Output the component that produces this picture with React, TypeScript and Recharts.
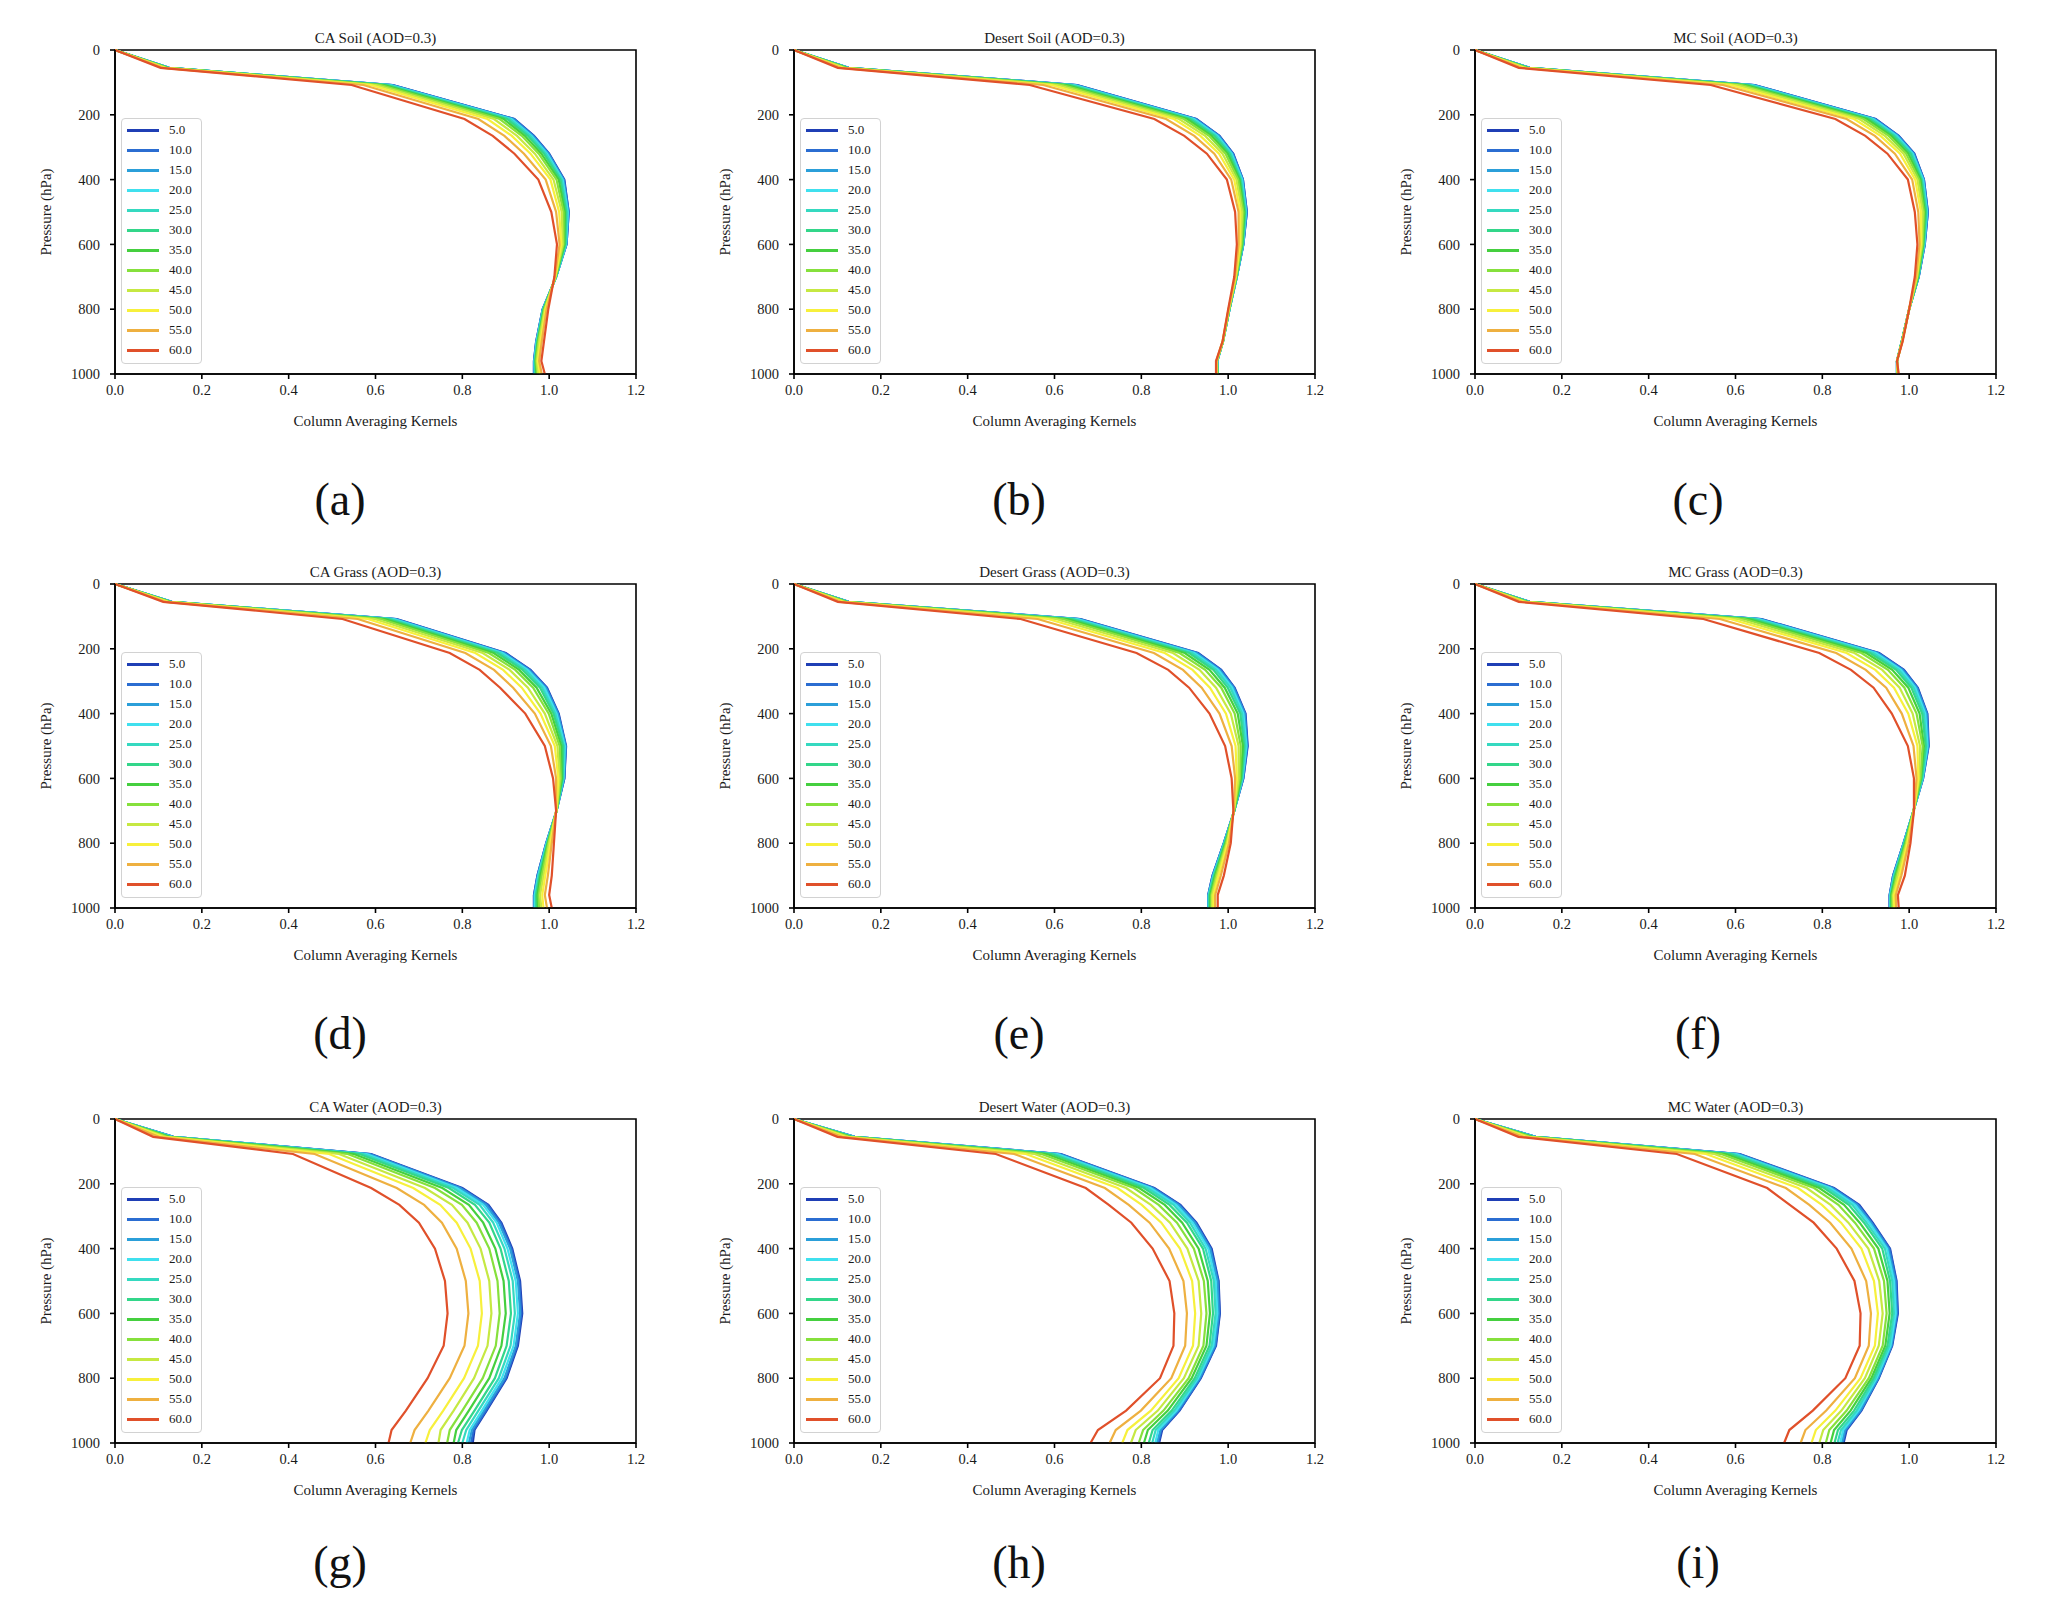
import React from "react";
import { Label, Legend, Line, LineChart, ReferenceArea, XAxis, YAxis } from "recharts";

// pressure levels (hPa), one row per level in every panel table below
const pressure = [0, 55, 108, 213, 265, 320, 400, 500, 600, 700, 800, 900, 960, 1000];
const angles = ["5.0", "10.0", "15.0", "20.0", "25.0", "30.0", "35.0", "40.0", "45.0", "50.0", "55.0", "60.0"];
const colors = ["#1f3fb5", "#2b6dd1", "#2b9fd9", "#40e0ee", "#35d9c0", "#33d68a", "#45cf3f", "#86e03c", "#c6e842", "#f7f03c", "#eeb040", "#e0502a"];
const xTicks = [0, 0.2, 0.4, 0.6, 0.8, 1.0, 1.2];
const yTicks = [0, 200, 400, 600, 800, 1000];

// columns: angles 5.0 ... 60.0
const caSoil = [
  [0, 0, 0, 0, 0, 0, 0, 0, 0, 0, 0, 0],
  [.125, .125, .124, .124, .123, .122, .121, .119, .117, .114, .111, .105],
  [.64, .639, .637, .634, .631, .626, .619, .612, .601, .589, .572, .545],
  [.92, .919, .917, .913, .909, .903, .895, .886, .873, .858, .837, .805],
  [.965, .964, .962, .959, .956, .951, .944, .937, .926, .914, .897, .87],
  [1.0, .999, .998, .995, .992, .988, .982, .976, .967, .957, .942, .92],
  [1.035, 1.034, 1.033, 1.031, 1.029, 1.026, 1.022, 1.017, 1.01, 1.003, .992, .975],
  [1.045, 1.045, 1.044, 1.043, 1.041, 1.039, 1.036, 1.033, 1.029, 1.023, 1.016, 1.005],
  [1.04, 1.04, 1.039, 1.039, 1.038, 1.037, 1.035, 1.033, 1.031, 1.028, 1.024, 1.018],
  [1.016, 1.016, 1.016, 1.016, 1.016, 1.015, 1.015, 1.015, 1.014, 1.014, 1.013, 1.012],
  [.985, .985, .985, .986, .986, .987, .988, .989, .99, .992, .994, .998],
  [.97, .97, .971, .971, .972, .973, .974, .975, .977, .98, .983, .988],
  [.965, .965, .966, .966, .967, .968, .969, .97, .972, .974, .977, .982],
  [.965, .965, .966, .967, .968, .969, .971, .973, .975, .979, .983, .99],
];

const desertSoil = [
  [0, 0, 0, 0, 0, 0, 0, 0, 0, 0, 0, 0],
  [.126, .126, .125, .124, .124, .122, .121, .119, .116, .112, .108, .101],
  [.652, .651, .649, .645, .641, .636, .628, .619, .607, .593, .574, .543],
  [.927, .926, .924, .921, .917, .912, .906, .898, .887, .875, .857, .83],
  [.98, .979, .978, .975, .972, .968, .962, .956, .947, .936, .922, .899],
  [1.012, 1.011, 1.01, 1.008, 1.006, 1.003, .999, .994, .987, .979, .968, .951],
  [1.034, 1.034, 1.033, 1.032, 1.03, 1.028, 1.026, 1.023, 1.019, 1.014, 1.007, .997],
  [1.043, 1.043, 1.042, 1.041, 1.04, 1.039, 1.037, 1.035, 1.032, 1.028, 1.024, 1.016],
  [1.035, 1.035, 1.035, 1.034, 1.034, 1.033, 1.032, 1.031, 1.029, 1.027, 1.024, 1.02],
  [1.02, 1.02, 1.02, 1.02, 1.019, 1.019, 1.019, 1.018, 1.018, 1.017, 1.016, 1.014],
  [1.003, 1.003, 1.003, 1.003, 1.003, 1.003, 1.002, 1.002, 1.002, 1.001, 1.001, 1.0],
  [.988, .988, .988, .988, .988, .988, .988, .988, .988, .987, .987, .987],
  [.975, .975, .975, .975, .975, .974, .974, .974, .974, .973, .973, .972],
  [.976, .976, .976, .976, .976, .975, .975, .975, .974, .974, .973, .972],
];

const mcSoil = [
  [0, 0, 0, 0, 0, 0, 0, 0, 0, 0, 0, 0],
  [.126, .126, .125, .124, .124, .122, .121, .119, .116, .112, .108, .101],
  [.644, .643, .641, .638, .634, .629, .622, .614, .603, .589, .571, .543],
  [.923, .922, .92, .917, .914, .909, .903, .895, .885, .873, .856, .83],
  [.976, .975, .974, .971, .968, .964, .959, .953, .944, .934, .921, .899],
  [1.012, 1.011, 1.01, 1.008, 1.006, 1.003, .998, .993, .987, .979, .967, .95],
  [1.034, 1.034, 1.033, 1.032, 1.03, 1.028, 1.026, 1.023, 1.019, 1.014, 1.007, .997],
  [1.043, 1.043, 1.042, 1.041, 1.04, 1.039, 1.036, 1.034, 1.031, 1.027, 1.021, 1.013],
  [1.036, 1.036, 1.035, 1.035, 1.034, 1.033, 1.032, 1.031, 1.029, 1.027, 1.024, 1.019],
  [1.022, 1.022, 1.022, 1.021, 1.021, 1.021, 1.02, 1.019, 1.018, 1.017, 1.016, 1.013],
  [1.0, 1.0, 1.0, 1.0, 1.0, 1.0, 1.0, 1.0, 1.0, 1.0, 1.0, 1.0],
  [.983, .983, .983, .983, .983, .983, .983, .984, .984, .984, .984, .985],
  [.972, .972, .972, .972, .972, .972, .972, .972, .972, .972, .972, .972],
  [.972, .972, .972, .972, .972, .973, .973, .973, .974, .974, .975, .976],
];

const caGrass = [
  [0, 0, 0, 0, 0, 0, 0, 0, 0, 0, 0, 0],
  [.131, .131, .13, .13, .129, .128, .127, .125, .123, .121, .117, .111],
  [.649, .647, .645, .642, .637, .63, .622, .612, .598, .582, .559, .524],
  [.9, .898, .896, .892, .887, .881, .872, .861, .847, .83, .807, .771],
  [.957, .956, .953, .95, .945, .939, .931, .922, .909, .894, .873, .84],
  [.995, .994, .992, .989, .984, .979, .971, .963, .951, .937, .917, .887],
  [1.022, 1.021, 1.02, 1.017, 1.014, 1.01, 1.005, .999, .99, .98, .967, .945],
  [1.039, 1.038, 1.038, 1.036, 1.034, 1.032, 1.028, 1.024, 1.019, 1.013, 1.004, .99],
  [1.035, 1.035, 1.034, 1.033, 1.032, 1.031, 1.029, 1.027, 1.024, 1.021, 1.016, 1.009],
  [1.017, 1.017, 1.017, 1.017, 1.017, 1.017, 1.017, 1.017, 1.017, 1.016, 1.016, 1.016],
  [.993, .993, .994, .994, .995, .996, .997, .998, 1.0, 1.003, 1.006, 1.011],
  [.973, .973, .974, .975, .976, .978, .98, .983, .987, .991, .997, 1.006],
  [.965, .965, .966, .967, .969, .97, .973, .976, .979, .984, .99, 1.0],
  [.965, .965, .966, .967, .969, .971, .974, .977, .982, .987, .995, 1.006],
];

const desertGrass = [
  [0, 0, 0, 0, 0, 0, 0, 0, 0, 0, 0, 0],
  [.126, .126, .125, .124, .124, .122, .121, .119, .116, .112, .108, .101],
  [.66, .658, .656, .652, .646, .639, .63, .619, .603, .585, .561, .522],
  [.931, .929, .927, .922, .917, .91, .9, .888, .873, .854, .829, .789],
  [.984, .983, .98, .977, .972, .966, .957, .947, .934, .918, .896, .862],
  [1.015, 1.014, 1.012, 1.009, 1.005, .999, .992, .984, .972, .958, .939, .91],
  [1.04, 1.039, 1.038, 1.035, 1.032, 1.028, 1.022, 1.015, 1.006, .995, .98, .957],
  [1.045, 1.044, 1.043, 1.042, 1.04, 1.037, 1.034, 1.029, 1.024, 1.017, 1.008, .993],
  [1.035, 1.035, 1.034, 1.033, 1.032, 1.031, 1.029, 1.027, 1.024, 1.02, 1.016, 1.008],
  [1.014, 1.014, 1.014, 1.014, 1.014, 1.014, 1.014, 1.013, 1.013, 1.013, 1.013, 1.012],
  [.99, .99, .99, .991, .992, .992, .994, .995, .997, .999, 1.002, 1.006],
  [.964, .964, .965, .966, .967, .968, .97, .972, .975, .978, .983, .99],
  [.954, .954, .955, .955, .956, .957, .959, .961, .963, .966, .97, .976],
  [.954, .954, .955, .955, .956, .957, .959, .961, .963, .966, .97, .976],
];

const mcGrass = [
  [0, 0, 0, 0, 0, 0, 0, 0, 0, 0, 0, 0],
  [.126, .126, .125, .124, .124, .122, .121, .119, .116, .112, .108, .101],
  [.66, .658, .656, .652, .647, .64, .631, .62, .605, .588, .564, .526],
  [.931, .929, .927, .923, .917, .91, .901, .89, .874, .856, .832, .793],
  [.988, .987, .984, .981, .976, .97, .961, .951, .938, .922, .9, .866],
  [1.02, 1.019, 1.017, 1.014, 1.01, 1.005, .998, .989, .978, .965, .947, .918],
  [1.042, 1.041, 1.04, 1.037, 1.034, 1.03, 1.024, 1.017, 1.008, .998, .983, .96],
  [1.045, 1.044, 1.044, 1.042, 1.04, 1.038, 1.034, 1.031, 1.025, 1.019, 1.01, .997],
  [1.032, 1.032, 1.031, 1.031, 1.03, 1.029, 1.027, 1.026, 1.023, 1.021, 1.017, 1.011],
  [1.01, 1.01, 1.01, 1.01, 1.01, 1.01, 1.01, 1.01, 1.01, 1.011, 1.011, 1.011],
  [.987, .987, .987, .988, .989, .989, .991, .992, .994, .996, .999, 1.003],
  [.963, .963, .964, .965, .966, .967, .969, .971, .974, .978, .982, .99],
  [.955, .955, .956, .956, .957, .958, .959, .961, .963, .965, .969, .974],
  [.955, .955, .956, .956, .957, .958, .96, .961, .964, .966, .97, .976],
];

const caWater = [
  [0, 0, 0, 0, 0, 0, 0, 0, 0, 0, 0, 0],
  [.135, .134, .134, .132, .13, .128, .125, .121, .116, .11, .101, .088],
  [.59, .588, .585, .579, .572, .563, .55, .536, .516, .493, .46, .41],
  [.8, .797, .794, .787, .779, .769, .754, .737, .714, .687, .649, .59],
  [.86, .858, .854, .848, .84, .829, .815, .799, .776, .749, .712, .655],
  [.89, .888, .884, .879, .871, .862, .848, .833, .812, .787, .753, .7],
  [.915, .913, .91, .904, .897, .888, .876, .862, .842, .819, .787, .737],
  [.933, .931, .928, .923, .916, .907, .895, .881, .862, .84, .808, .76],
  [.938, .936, .933, .928, .921, .912, .9, .886, .867, .845, .814, .766],
  [.928, .926, .923, .918, .911, .902, .89, .877, .858, .836, .805, .757],
  [.902, .9, .897, .891, .884, .875, .862, .847, .827, .804, .771, .72],
  [.856, .854, .85, .845, .837, .828, .815, .8, .78, .756, .722, .67],
  [.828, .826, .822, .817, .809, .799, .786, .771, .75, .725, .69, .637],
  [.824, .82, .815, .81, .8, .79, .78, .765, .745, .715, .68, .63],
];

const desertWater = [
  [0, 0, 0, 0, 0, 0, 0, 0, 0, 0, 0, 0],
  [.14, .14, .139, .138, .136, .134, .131, .128, .124, .118, .111, .1],
  [.615, .613, .611, .606, .6, .593, .582, .57, .554, .534, .507, .465],
  [.83, .828, .825, .821, .814, .806, .795, .783, .765, .745, .716, .672],
  [.89, .888, .885, .88, .874, .865, .854, .84, .822, .801, .771, .725],
  [.927, .925, .923, .918, .912, .905, .894, .882, .866, .846, .819, .777],
  [.962, .96, .958, .954, .948, .942, .932, .921, .906, .889, .864, .826],
  [.978, .977, .975, .971, .967, .961, .953, .944, .932, .917, .897, .865],
  [.981, .98, .978, .975, .971, .965, .958, .95, .938, .924, .905, .876],
  [.972, .971, .969, .966, .962, .957, .95, .943, .932, .919, .901, .874],
  [.937, .936, .934, .931, .928, .923, .916, .909, .898, .886, .869, .843],
  [.888, .887, .884, .881, .876, .87, .861, .851, .838, .822, .799, .765],
  [.848, .846, .844, .839, .833, .826, .815, .804, .787, .768, .741, .7],
  [.841, .839, .836, .832, .825, .817, .806, .794, .776, .756, .727, .683],
];

const mcWater = [
  [0, 0, 0, 0, 0, 0, 0, 0, 0, 0, 0, 0],
  [.14, .14, .139, .138, .136, .134, .131, .128, .124, .118, .111, .1],
  [.61, .608, .606, .601, .596, .588, .578, .567, .551, .532, .506, .465],
  [.827, .825, .822, .818, .812, .804, .793, .781, .764, .744, .716, .673],
  [.885, .883, .88, .875, .869, .861, .85, .837, .819, .799, .77, .725],
  [.916, .914, .912, .908, .902, .896, .886, .875, .86, .843, .818, .78],
  [.956, .955, .952, .949, .944, .938, .929, .919, .906, .89, .867, .833],
  [.971, .97, .968, .965, .961, .956, .95, .942, .931, .919, .901, .874],
  [.974, .973, .971, .969, .965, .961, .955, .948, .939, .928, .912, .888],
  [.961, .96, .959, .957, .954, .95, .945, .939, .93, .921, .907, .886],
  [.93, .929, .928, .925, .922, .918, .913, .907, .898, .888, .875, .853],
  [.89, .889, .887, .883, .879, .873, .865, .856, .844, .83, .809, .778],
  [.856, .854, .852, .848, .843, .836, .827, .816, .802, .785, .761, .724],
  [.849, .847, .845, .841, .835, .828, .819, .808, .793, .775, .75, .712],
];

const panels = [
  { title: "CA Soil (AOD=0.3)", tag: "(a)", rows: caSoil },
  { title: "Desert Soil (AOD=0.3)", tag: "(b)", rows: desertSoil },
  { title: "MC Soil (AOD=0.3)", tag: "(c)", rows: mcSoil },
  { title: "CA Grass (AOD=0.3)", tag: "(d)", rows: caGrass },
  { title: "Desert Grass (AOD=0.3)", tag: "(e)", rows: desertGrass },
  { title: "MC Grass (AOD=0.3)", tag: "(f)", rows: mcGrass },
  { title: "CA Water (AOD=0.3)", tag: "(g)", rows: caWater },
  { title: "Desert Water (AOD=0.3)", tag: "(h)", rows: desertWater },
  { title: "MC Water (AOD=0.3)", tag: "(i)", rows: mcWater },
];

const FONT = "'Liberation Serif', 'Times New Roman', serif";
const colLeft = [115, 794, 1475];
const rowTop = [50, 584, 1119];
const tagX = [340, 1019, 1698];
const tagY = [500, 1034, 1563];
const PW = 521;
const PH = 324;
const AXW = 90;
const TOP = 40;
const AXH = 70;
const RIGHT = 25;

function LegendBox() {
  return (
    <div
      style={{
        width: 81,
        border: "1px solid #d2d2d2",
        borderRadius: 4,
        background: "rgba(255,255,255,0.85)",
        fontFamily: FONT,
        fontSize: 13,
        color: "#1a1a1a",
        boxSizing: "border-box",
      }}
    >
      {angles.map((a, i) => (
        <div key={a} style={{ height: 20, marginTop: i === 0 ? 1 : 0, display: "flex", alignItems: "center" }}>
          <span style={{ display: "inline-block", width: 32, height: 3, marginLeft: 5, background: colors[i] }} />
          <span style={{ marginLeft: 10 }}>{a}</span>
        </div>
      ))}
      <div style={{ height: 3 }} />
    </div>
  );
}

function Panel({ title, rows }: { title: string; rows: number[][] }) {
  const data = pressure.map((p, i) => {
    const row: Record<string, number> = { p };
    angles.forEach((_, j) => {
      row["a" + j] = rows[i][j];
    });
    return row;
  });
  const tickStyle = { fill: "#1a1a1a", fontSize: 14.5, fontFamily: FONT };
  return (
    <div style={{ position: "relative" }}>
      <div
        style={{
          position: "absolute",
          left: AXW,
          width: PW,
          top: TOP - 21,
          textAlign: "center",
          fontFamily: FONT,
          fontSize: 15,
          color: "#1a1a1a",
          lineHeight: "18px",
        }}
      >
        {title}
      </div>
      <LineChart
        layout="vertical"
        width={AXW + PW + RIGHT}
        height={TOP + PH + AXH}
        data={data}
        margin={{ top: TOP, right: RIGHT, bottom: 0, left: 0 }}
      >
        <XAxis
          type="number"
          domain={[0, 1.2]}
          ticks={xTicks}
          tickFormatter={(v: number) => v.toFixed(1)}
          height={AXH}
          tick={tickStyle}
          tickSize={5}
          tickMargin={6}
          axisLine={{ stroke: "#000", strokeWidth: 1.6 }}
          tickLine={{ stroke: "#000", strokeWidth: 1.6 }}
        >
          <Label
            content={({ viewBox }: any) => (
              <text
                x={viewBox.x + viewBox.width / 2}
                y={viewBox.y + 47}
                textAnchor="middle"
                dominantBaseline="central"
                fontFamily={FONT}
                fontSize={15}
                fill="#1a1a1a"
              >
                Column Averaging Kernels
              </text>
            )}
          />
        </XAxis>
        <YAxis
          type="number"
          dataKey="p"
          domain={[0, 1000]}
          ticks={yTicks}
          width={AXW}
          tick={tickStyle}
          tickSize={5}
          tickMargin={10}
          axisLine={{ stroke: "#000", strokeWidth: 1.6 }}
          tickLine={{ stroke: "#000", strokeWidth: 1.6 }}
        >
          <Label
            content={({ viewBox }: any) => {
              const cx = viewBox.x + 21;
              const cy = viewBox.y + viewBox.height / 2;
              return (
                <text
                  x={cx}
                  y={cy}
                  transform={`rotate(-90 ${cx} ${cy})`}
                  textAnchor="middle"
                  dominantBaseline="central"
                  fontFamily={FONT}
                  fontSize={15}
                  fill="#1a1a1a"
                >
                  Pressure (hPa)
                </text>
              );
            }}
          />
        </YAxis>
        {angles.map((a, j) => (
          <Line
            key={a}
            name={a}
            dataKey={"a" + j}
            type="linear"
            stroke={colors[j]}
            strokeWidth={2.2}
            dot={false}
            isAnimationActive={false}
          />
        ))}
        <ReferenceArea x1={0} x2={1.2} y1={0} y2={1000} fill="none" stroke="#000" strokeWidth={1.6} ifOverflow="visible" />
        <Legend
          layout="horizontal"
          verticalAlign="middle"
          align="center"
          wrapperStyle={{ left: AXW + 6, top: TOP + 68, width: 81 }}
          content={() => <LegendBox />}
        />
      </LineChart>
    </div>
  );
}

export default function App() {
  return (
    <div style={{ position: "relative", width: 2048, height: 1604, background: "#fff", overflow: "hidden" }}>
      <style>{`body{margin:0}`}</style>
      {panels.map((pn, k) => {
        const c = k % 3;
        const r = Math.floor(k / 3);
        return (
          <React.Fragment key={pn.tag}>
            <div style={{ position: "absolute", left: colLeft[c] - AXW, top: rowTop[r] - TOP }}>
              <Panel title={pn.title} rows={pn.rows} />
            </div>
            <div
              style={{
                position: "absolute",
                left: tagX[c] - 60,
                width: 120,
                top: tagY[r] - 30,
                height: 60,
                lineHeight: "60px",
                textAlign: "center",
                fontFamily: FONT,
                fontSize: 46,
                color: "#111",
              }}
            >
              {pn.tag}
            </div>
          </React.Fragment>
        );
      })}
    </div>
  );
}
